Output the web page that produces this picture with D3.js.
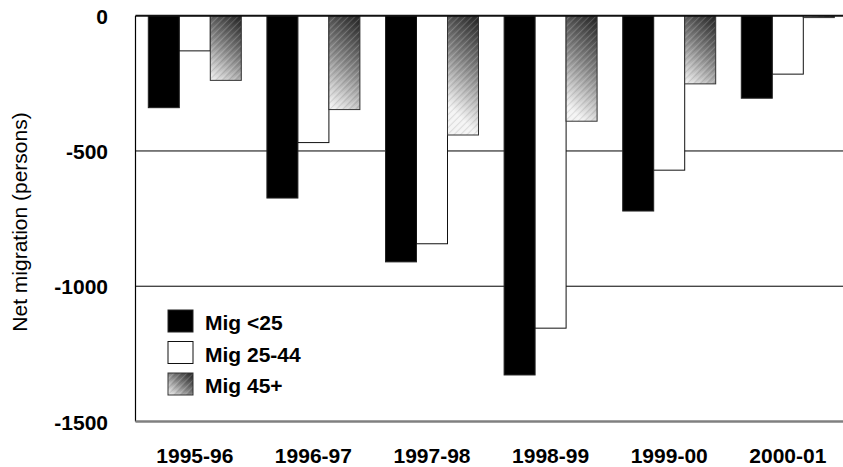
<!DOCTYPE html>
<html>
<head>
<meta charset="utf-8">
<script src="https://cdn.jsdelivr.net/npm/d3@7"></script>
<style>
html,body{margin:0;padding:0;background:#fff;}
svg{display:block;}
</style>
</head>
<body>
<svg id="chart" width="843" height="467"></svg>
<script>
const categories = ["1995-96","1996-97","1997-98","1998-99","1999-00","2000-01"];
const seriesNames = ["Mig <25","Mig 25-44","Mig 45+"];
const migUnder25 = [-340, -674, -910, -1328, -722, -305];
const mig25to44 = [-130, -469, -843, -1155, -571, -216];
const mig45plus = [-239, -347, -441, -390, -252, -7];
const yTicks = [0, -500, -1000, -1500];
const yTickLabels = ["0", "-500", "-1000", "-1500"];
const yTitle = "Net migration (persons)";

const seriesValues = [migUnder25, mig25to44, mig45plus];

(function(){
const svg = d3.select("#chart");
const W = 843;
const plotLeft = 135.5, plotTop = 15.7, plotBottom = 421.5;
const step = 118.6;
const plotRight = plotLeft + step * categories.length;

const y = d3.scaleLinear().domain([-1500, 0]).range([plotBottom, plotTop]);
const x0 = d3.scaleBand().domain(categories).range([plotLeft, plotRight]).padding(0);
const x1 = d3.scaleBand().domain(seriesNames).range([0, x0.bandwidth()]).paddingInner(0).paddingOuter(0.413);

const defs = svg.append("defs");
const pat = defs.append("pattern").attr("id","stripes")
  .attr("patternUnits","userSpaceOnUse").attr("width",4.6).attr("height",4.6)
  .attr("patternTransform","rotate(45)");
pat.append("line").attr("x1",0).attr("y1",0).attr("x2",0).attr("y2",4.6)
  .attr("stroke","rgba(255,255,255,0.28)").attr("stroke-width",1.2);
pat.append("line").attr("x1",2.3).attr("y1",0).attr("x2",2.3).attr("y2",4.6)
  .attr("stroke","rgba(0,0,0,0.10)").attr("stroke-width",1);

function makeGrad(id, x, yy, w, h, maxS) {
  const s = Math.min((w + h) / 2, maxS);
  const g = defs.append("linearGradient").attr("id", id)
    .attr("gradientUnits","userSpaceOnUse")
    .attr("x1", x + w).attr("y1", yy).attr("x2", x + w - s).attr("y2", yy + s);
  g.append("stop").attr("offset","0").attr("stop-color","#222");
  g.append("stop").attr("offset","0.5").attr("stop-color","#858585");
  g.append("stop").attr("offset","1").attr("stop-color","#f4f4f4");
}

function hatchRect(parent, id, bx, by, bw, bh, maxS) {
  makeGrad(id, bx, by, bw, bh, maxS);
  parent.append("rect").attr("x", bx).attr("y", by).attr("width", bw).attr("height", bh)
    .attr("fill", `url(#${id})`);
  parent.append("rect").attr("x", bx).attr("y", by).attr("width", bw).attr("height", bh)
    .attr("fill", "url(#stripes)");
  parent.append("rect").attr("x", bx).attr("y", by).attr("width", bw).attr("height", bh)
    .attr("fill", "none").attr("stroke", "#333").attr("stroke-width", 1);
}

svg.append("g").selectAll("line").data([-500, -1000]).join("line")
  .attr("x1", plotLeft).attr("x2", W).attr("y1", d => y(d)).attr("y2", d => y(d))
  .attr("stroke","#000").attr("stroke-width",1);

const fills = ["#000", "#fff"];
const strokes = ["#222", "#111"];
const barG = svg.append("g");
categories.forEach((c, i) => {
  seriesNames.forEach((s, j) => {
    const v = seriesValues[j][i];
    const bx = x0(c) + x1(s);
    const bw = x1.bandwidth();
    const by = y(0);
    const bh = y(v) - y(0);
    if (j === 2) {
      hatchRect(barG, "g" + i, bx, by, bw, bh, 60);
    } else {
      barG.append("rect").attr("x", bx).attr("y", by).attr("width", bw).attr("height", bh)
        .attr("fill", fills[j]).attr("stroke", strokes[j]).attr("stroke-width", 1);
    }
  });
});

svg.append("line").attr("x1", plotLeft).attr("x2", W).attr("y1", y(0)).attr("y2", y(0))
  .attr("stroke","#111").attr("stroke-width",2);
svg.append("line").attr("x1", plotLeft).attr("x2", plotLeft).attr("y1", y(0)).attr("y2", plotBottom)
  .attr("stroke","#000").attr("stroke-width",1.2);
svg.append("line").attr("x1", plotLeft).attr("x2", W).attr("y1", plotBottom).attr("y2", plotBottom)
  .attr("stroke","#808080").attr("stroke-width",2.6);

const yAxis = d3.axisLeft(y).tickValues(yTicks).tickSize(0).tickPadding(0)
  .tickFormat((d, i) => yTickLabels[i]);
const ya = svg.append("g").attr("transform", `translate(108,0)`).call(yAxis);
ya.select(".domain").remove();
ya.selectAll("text").attr("font-family","'Liberation Sans', Arial, sans-serif")
  .attr("font-weight","bold").attr("font-size","21px").attr("fill","#000").attr("dy","0.36em");

const xAxis = d3.axisBottom(x0).tickSize(0).tickPadding(0);
const xa = svg.append("g").attr("transform", `translate(0,${plotBottom})`).call(xAxis);
xa.select(".domain").remove();
xa.selectAll("text").attr("font-family","'Liberation Sans', Arial, sans-serif")
  .attr("font-weight","bold").attr("font-size","21px").attr("fill","#000")
  .attr("dy", null).attr("y", 41);

svg.append("text").attr("transform", `translate(27,222) rotate(-90)`)
  .attr("text-anchor","middle").attr("font-family","'Liberation Sans', Arial, sans-serif")
  .attr("font-size","21px").attr("fill","#000").text(yTitle);

const lgX = 168, lgY = 310, lgStep = 31.5;
const lg = svg.append("g");
seriesNames.forEach((s, j) => {
  const ly = lgY + j * lgStep;
  if (j === 2) {
    hatchRect(lg, "glegend", lgX, ly, 25, 22, 100);
  } else {
    lg.append("rect").attr("x",lgX).attr("y",ly).attr("width",25).attr("height",22)
      .attr("fill",fills[j]).attr("stroke",strokes[j]).attr("stroke-width",1);
  }
  lg.append("text").attr("x",lgX + 37).attr("y",ly+20)
    .attr("font-family","'Liberation Sans', Arial, sans-serif").attr("font-weight","bold")
    .attr("font-size","21px").attr("fill","#000").text(s);
});
})();
</script>
</body>
</html>
